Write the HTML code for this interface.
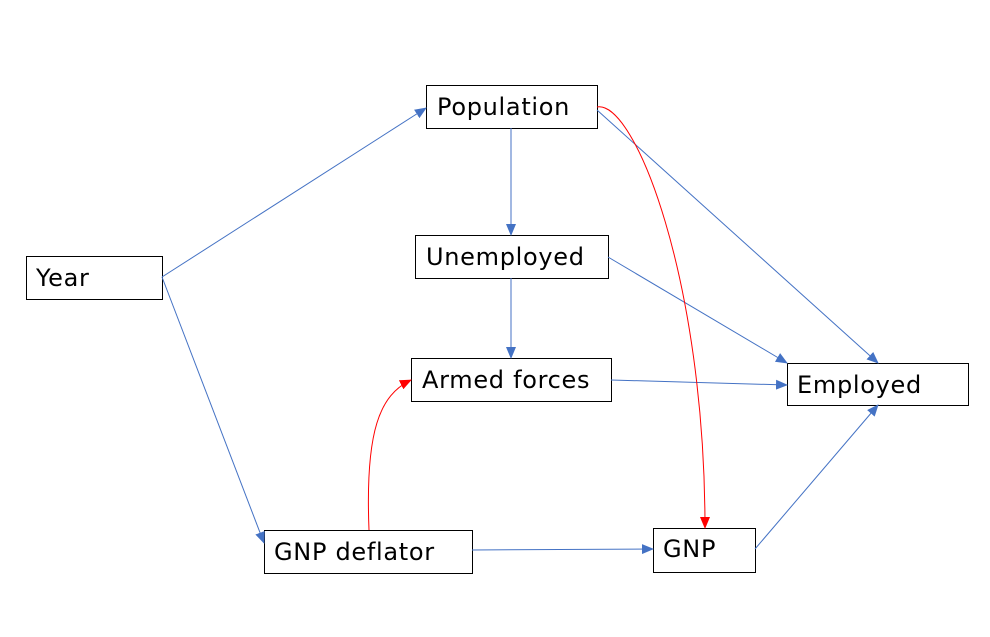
<!DOCTYPE html>
<html><head><meta charset="utf-8"><style>
html,body{margin:0;padding:0;background:#fff;}
svg{display:block;}
text{font-family:"DejaVu Sans",Verdana,sans-serif;font-size:24px;fill:#000;letter-spacing:0.7px;}
</style></head><body>
<svg width="990" height="637" viewBox="0 0 990 637" xmlns="http://www.w3.org/2000/svg">
<defs>
<marker id="b" markerWidth="12" markerHeight="10" refX="11" refY="5" orient="auto" markerUnits="userSpaceOnUse"><path d="M0,0 L12,5 L0,10 z" fill="#4472C4"/></marker>
<marker id="r" markerWidth="12" markerHeight="10" refX="11" refY="5" orient="auto" markerUnits="userSpaceOnUse"><path d="M0,0 L12,5 L0,10 z" fill="#FF0000"/></marker>
</defs>
<g fill="#fff" stroke="#000" stroke-width="1">
<rect x="426.5" y="85.5" width="171" height="43"/>
<rect x="26.5" y="256.5" width="136" height="43"/>
<rect x="415.5" y="235.5" width="193" height="43"/>
<rect x="411.5" y="358.5" width="200" height="43"/>
<rect x="787.5" y="363.5" width="181" height="42"/>
<rect x="264.5" y="530.5" width="208" height="43"/>
<rect x="653.5" y="528.5" width="102" height="44"/>
</g>
<text x="437" y="115">Population</text>
<text x="36" y="286">Year</text>
<text x="426" y="265">Unemployed</text>
<text x="422" y="388">Armed forces</text>
<text x="797" y="393">Employed</text>
<text x="274" y="560">GNP deflator</text>
<text x="663" y="557">GNP</text>
<g stroke="#4472C4" stroke-width="1" fill="none" marker-end="url(#b)">
<line x1="162" y1="277" x2="426" y2="108"/>
<line x1="162" y1="277" x2="264" y2="543"/>
<line x1="511" y1="128" x2="511" y2="235"/>
<line x1="597" y1="110" x2="878" y2="363"/>
<line x1="608" y1="257" x2="787" y2="363"/>
<line x1="511" y1="278" x2="511" y2="358"/>
<line x1="611" y1="380" x2="787" y2="385"/>
<line x1="472" y1="550" x2="653" y2="549"/>
<line x1="755" y1="549" x2="878" y2="405"/>
</g>
<g stroke="#FF0000" stroke-width="1" fill="none" marker-end="url(#r)">
<path d="M597,107 C635,100 705,280 705,528"/>
<path d="M369,530 C365,430 380,395 411,380"/>
</g>
</svg>
</body></html>
